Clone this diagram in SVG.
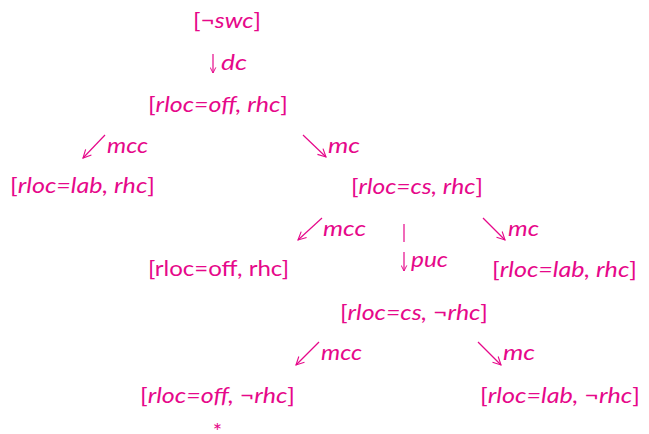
<svg xmlns="http://www.w3.org/2000/svg" width="649" height="434" viewBox="0 0 649 434">
<style>
text{font-family:Lato,"Open Sans","Liberation Sans",sans-serif;font-size:20.5px;fill:#E6088A;font-style:italic}
.u{font-style:normal}
.c{stroke:#E6088A;stroke-width:1.2;fill:none}
</style>
<defs>
<marker id="ah" viewBox="0 0 10 10" refX="9" refY="5" markerWidth="7" markerHeight="7" markerUnits="userSpaceOnUse" orient="auto"><path d="M1,1 L9,5 L1,9" stroke="#E6088A" stroke-width="1.4" fill="none"/></marker>
<marker id="ahd" viewBox="0 0 10 10" refX="9" refY="5" markerWidth="10" markerHeight="10" markerUnits="userSpaceOnUse" orient="auto"><path d="M1,1 L9,5 L1,9" stroke="#E6088A" stroke-width="1.1" fill="none"/></marker>
</defs>
<g id="connectors">
<line class="c" x1="213" y1="54" x2="213" y2="73" marker-end="url(#ah)"/>
<text x="221" y="70" textLength="26" lengthAdjust="spacingAndGlyphs">dc</text>
<line class="c" x1="105" y1="135" x2="83" y2="158" marker-end="url(#ahd)"/>
<text x="107" y="153" textLength="41" lengthAdjust="spacingAndGlyphs">mcc</text>
<line class="c" x1="303" y1="135" x2="326" y2="157" marker-end="url(#ahd)"/>
<text x="328" y="153" textLength="32" lengthAdjust="spacingAndGlyphs">mc</text>
<line class="c" x1="322" y1="218" x2="298" y2="240" marker-end="url(#ahd)"/>
<text x="323" y="236" textLength="43" lengthAdjust="spacingAndGlyphs">mcc</text>
<line class="c" x1="404" y1="224" x2="404" y2="242"/>
<line class="c" x1="404" y1="252" x2="404" y2="271" marker-end="url(#ah)"/>
<text x="411" y="267" textLength="37" lengthAdjust="spacingAndGlyphs">puc</text>
<line class="c" x1="483" y1="218" x2="505" y2="240" marker-end="url(#ahd)"/>
<text x="508" y="236" textLength="31" lengthAdjust="spacingAndGlyphs">mc</text>
<line class="c" x1="319" y1="342" x2="296" y2="365" marker-end="url(#ahd)"/>
<text x="321" y="360" textLength="41" lengthAdjust="spacingAndGlyphs">mcc</text>
<line class="c" x1="478" y1="342" x2="501" y2="365" marker-end="url(#ahd)"/>
<text x="503" y="360" textLength="32" lengthAdjust="spacingAndGlyphs">mc</text>
</g>
<g id="n_swc"><text x="193" y="28" textLength="68" lengthAdjust="spacingAndGlyphs"><tspan class="u">[¬</tspan>swc<tspan class="u">]</tspan></text></g>
<g id="n_off_rhc"><text x="148" y="112" textLength="140" lengthAdjust="spacingAndGlyphs"><tspan class="u">[</tspan>rloc=off, rhc<tspan class="u">]</tspan></text></g>
<g id="n_lab_rhc_1"><text x="10" y="193" textLength="145" lengthAdjust="spacingAndGlyphs"><tspan class="u">[</tspan>rloc=lab, rhc<tspan class="u">]</tspan></text></g>
<g id="n_cs_rhc"><text x="351" y="194" textLength="132" lengthAdjust="spacingAndGlyphs"><tspan class="u">[</tspan>rloc=cs, rhc<tspan class="u">]</tspan></text></g>
<g id="n_off_rhc_2"><text class="u" x="148" y="276" textLength="141" lengthAdjust="spacingAndGlyphs">[rloc=off, rhc]</text></g>
<g id="n_lab_rhc_2"><text x="492" y="277" textLength="145" lengthAdjust="spacingAndGlyphs"><tspan class="u">[</tspan>rloc=lab, rhc<tspan class="u">]</tspan></text></g>
<g id="n_cs_nrhc"><text x="340" y="320" textLength="148" lengthAdjust="spacingAndGlyphs"><tspan class="u">[</tspan>rloc=cs, <tspan class="u">¬</tspan>rhc<tspan class="u">]</tspan></text></g>
<g id="n_off_nrhc"><text x="140" y="403" textLength="155" lengthAdjust="spacingAndGlyphs"><tspan class="u">[</tspan>rloc=off, <tspan class="u">¬</tspan>rhc<tspan class="u">]</tspan></text>
<text class="u" x="217.5" y="439" text-anchor="middle" style="font-size:22px">*</text></g>
<g id="n_lab_nrhc"><text x="480" y="403" textLength="160" lengthAdjust="spacingAndGlyphs"><tspan class="u">[</tspan>rloc=lab, <tspan class="u">¬</tspan>rhc<tspan class="u">]</tspan></text></g>
</svg>
